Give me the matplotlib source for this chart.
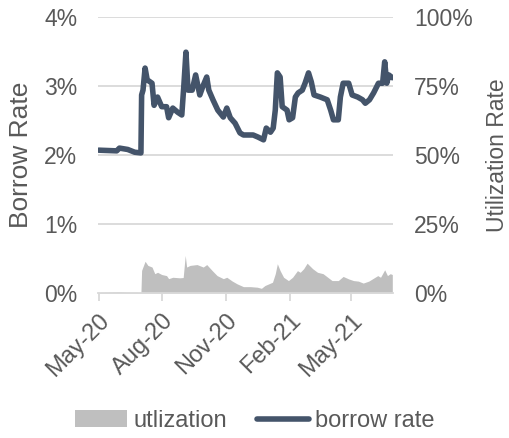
import matplotlib
matplotlib.use("Agg")
import matplotlib.pyplot as plt
import matplotlib.dates as mdates
import pandas as pd
from matplotlib.ticker import FuncFormatter, FixedLocator
from matplotlib.patches import Patch
from matplotlib.lines import Line2D

plt.rcParams['font.family'] = ['Liberation Sans', 'DejaVu Sans']

rate_dates = ["2020-05-01", "2020-05-27", "2020-05-31", "2020-06-12", "2020-06-22", "2020-07-01",
              "2020-07-02", "2020-07-04", "2020-07-07", "2020-07-10", "2020-07-17", "2020-07-20",
              "2020-07-25", "2020-07-31", "2020-08-07", "2020-08-10", "2020-08-16", "2020-08-23",
              "2020-08-29", "2020-09-01", "2020-09-04", "2020-09-07", "2020-09-13", "2020-09-18",
              "2020-09-24", "2020-09-29", "2020-10-04", "2020-10-07", "2020-10-13", "2020-10-20",
              "2020-10-28", "2020-11-02", "2020-11-07", "2020-11-14", "2020-11-21", "2020-11-26",
              "2020-12-10", "2020-12-17", "2020-12-25", "2020-12-29", "2021-01-04", "2021-01-08",
              "2021-01-11", "2021-01-14", "2021-01-18", "2021-01-21", "2021-01-28", "2021-01-31",
              "2021-02-05", "2021-02-09", "2021-02-13", "2021-02-19", "2021-02-23", "2021-02-28",
              "2021-03-04", "2021-03-08", "2021-03-17", "2021-03-27", "2021-04-01", "2021-04-05",
              "2021-04-12", "2021-04-15", "2021-04-19", "2021-04-27", "2021-05-02", "2021-05-10",
              "2021-05-17", "2021-05-21", "2021-05-27", "2021-06-02", "2021-06-09", "2021-06-15",
              "2021-06-18", "2021-06-21", "2021-06-24", "2021-06-29"]
borrow_rate = [2.07, 2.06, 2.10, 2.08, 2.04, 2.03,
               2.87, 2.94, 3.26, 3.09, 3.04, 2.72,
               2.84, 2.70, 2.70, 2.54, 2.68, 2.62,
               2.58, 3.01, 3.49, 2.94, 2.94, 3.16,
               2.87, 3.01, 3.13, 2.94, 2.80, 2.65,
               2.55, 2.68, 2.54, 2.46, 2.32, 2.29,
               2.29, 2.26, 2.22, 2.39, 2.33, 2.39,
               2.65, 3.19, 3.13, 2.70, 2.65, 2.51,
               2.54, 2.84, 2.90, 2.94, 3.04, 3.19,
               3.06, 2.87, 2.84, 2.80, 2.65, 2.51,
               2.51, 2.84, 3.04, 3.04, 2.87, 2.84,
               2.80, 2.75, 2.80, 2.90, 3.04, 3.04,
               3.35, 3.04, 3.16, 3.12]

util_dates = ["2020-05-01", "2020-06-01", "2020-06-10", "2020-07-01", "2020-07-02", "2020-07-07",
              "2020-07-11", "2020-07-17", "2020-07-21", "2020-07-25", "2020-07-31", "2020-08-07",
              "2020-08-10", "2020-08-16", "2020-08-26", "2020-08-31", "2020-09-03", "2020-09-05",
              "2020-09-10", "2020-09-20", "2020-09-29", "2020-10-04", "2020-10-12", "2020-10-19",
              "2020-10-28", "2020-11-02", "2020-11-10", "2020-11-17", "2020-11-26", "2020-12-06",
              "2020-12-16", "2020-12-22", "2020-12-27", "2021-01-07", "2021-01-11", "2021-01-14",
              "2021-01-18", "2021-01-23", "2021-01-30", "2021-02-05", "2021-02-12", "2021-02-16",
              "2021-02-21", "2021-02-26", "2021-03-06", "2021-03-13", "2021-03-21", "2021-04-03",
              "2021-04-12", "2021-04-19", "2021-04-27", "2021-05-04", "2021-05-11", "2021-05-18",
              "2021-05-26", "2021-06-08", "2021-06-12", "2021-06-18", "2021-06-22", "2021-06-26",
              "2021-06-29"]
utilization = [0.2, 0.5, 0.3, 0.2, 8.2, 11.5,
               10.0, 9.4, 7.0, 7.5, 6.7, 6.3,
               5.2, 5.7, 5.5, 5.6, 13.6, 9.4,
               10.0, 10.3, 9.4, 10.3, 8.1, 6.3,
               5.2, 5.7, 4.3, 3.3, 2.3, 2.3,
               2.1, 1.7, 2.7, 3.9, 7.0, 10.6,
               8.1, 5.7, 4.5, 5.7, 8.1, 7.5,
               8.8, 10.8, 8.8, 7.5, 7.0, 4.5,
               4.5, 6.0, 5.1, 4.5, 4.3, 3.6,
               4.3, 6.3, 5.7, 8.4, 6.3, 7.0,
               6.7]

tick_dates = ["2020-05-01", "2020-08-01", "2020-11-01", "2021-02-01", "2021-05-01"]
tick_labels = ["May-20", "Aug-20", "Nov-20", "Feb-21", "May-21"]
left_ticks = [0, 1, 2, 3, 4]
right_ticks = [0, 25, 50, 75, 100]

rd = pd.to_datetime(rate_dates)
ud = pd.to_datetime(util_dates)
td = pd.to_datetime(tick_dates)

fig = plt.figure(figsize=(5.10, 4.38), dpi=100)
ax = fig.add_axes([98/510, 1-293/438, (393-98)/510, (293-17)/438])
ax2 = ax.twinx()

txt = '#595959'
grid = '#D9D9D9'
fs = 16.5

ax2.fill_between(ud, 0, utilization, color='#BFBFBF', lw=0, zorder=1)
ax2.set_ylim(0, 100)
ax.set_ylim(0, 4)

ax.set_zorder(ax2.get_zorder() + 1)
ax.patch.set_visible(False)
for y in left_ticks[1:]:
    ax2.axhline(y * 25, color=grid, lw=1.3, zorder=0)
ax.plot(rd, borrow_rate, color='#44546A', lw=4.0, solid_capstyle='round', solid_joinstyle='round', zorder=3)

ax.set_xlim(pd.Timestamp("2020-04-30"), pd.Timestamp("2021-06-30"))
ax.xaxis.set_major_locator(FixedLocator(mdates.date2num(td)))
ax.set_xticklabels(tick_labels, rotation=45, ha='right', rotation_mode='anchor')

ax.set_yticks(left_ticks)
ax.yaxis.set_major_formatter(FuncFormatter(lambda v, p: f"{int(v)}%"))
ax2.set_yticks(right_ticks)
ax2.yaxis.set_major_formatter(FuncFormatter(lambda v, p: f"{int(v)}%"))

for a in (ax, ax2):
    for s in a.spines.values():
        s.set_visible(False)
ax.spines['bottom'].set_visible(True)
ax.spines['bottom'].set_color(grid)
ax.spines['bottom'].set_linewidth(1.3)
ax.tick_params(axis='x', colors=grid, length=6, width=1.3, labelcolor=txt, labelsize=17, pad=6)
ax.tick_params(axis='y', length=0, labelcolor=txt, labelsize=fs, pad=15)
ax2.tick_params(axis='y', length=0, labelcolor=txt, labelsize=fs, pad=15)

ax.set_ylabel("Borrow Rate", color=txt, fontsize=19, labelpad=8)
ax2.set_ylabel("Utilization Rate", color=txt, fontsize=16.5, labelpad=10)

handles = [Patch(facecolor='#BFBFBF', edgecolor='none', label='utlization'),
           Line2D([0], [0], color='#44546A', lw=4.0, solid_capstyle='round', label='borrow rate')]
fig.legend(handles=handles, loc='center', bbox_to_anchor=(0.5, 1-421/438), ncol=2, frameon=False,
           fontsize=17, labelcolor=txt, handlelength=2.2, handletextpad=0.25, columnspacing=1.3)

fig.savefig("out.png", dpi=100)
